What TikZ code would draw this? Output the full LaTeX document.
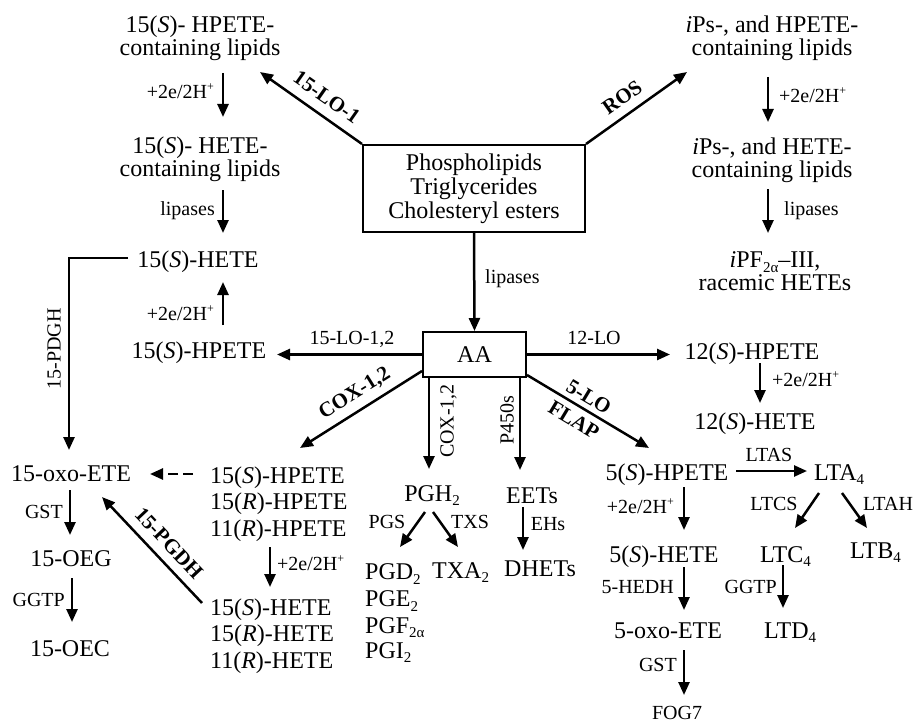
\documentclass[tikz,border=0pt]{standalone}
\usepackage{fontspec}
\setmainfont{Liberation Serif}
\usetikzlibrary{arrows.meta,calc}
\newcommand{\mysub}[1]{\raisebox{-0.2em}{\fontsize{15}{15}\selectfont #1}}
\newcommand{\mysup}[1]{\raisebox{0.4em}{\fontsize{12}{12}\selectfont #1}}
\tikzset{
 main/.style={font=\fontsize{24}{23}\selectfont, inner sep=0pt, text height=16pt, text depth=0pt},
 multi/.style={font=\fontsize{24}{23}\selectfont, inner sep=0pt, align=center},
 trip/.style={font=\fontsize{24}{26.5}\selectfont, inner sep=0pt, align=left, anchor=west},
 lab/.style={font=\fontsize{20}{20}\selectfont, inner sep=0pt, text height=13pt, text depth=0pt},
 dlab/.style={font=\fontsize{21}{21}\selectfont\bfseries, inner sep=0pt, text height=14pt, text depth=0pt},
 arr/.style={line width=2.5pt, -{Triangle[length=13pt,width=11pt]}},
 dasharr/.style={arr, dash pattern=on 10pt off 5pt},
 boxn/.style={draw, line width=2pt, inner sep=0pt, align=center, font=\fontsize{24}{24}\selectfont}
}
\begin{document}
\begin{tikzpicture}[x=1pt,y=-1pt]
\useasboundingbox (0,0) rectangle (917,722);
% ---------- main nodes ----------
\node[multi] (A1) at (200,38) {15(\textit{S})- HPETE-\\containing lipids};
\node[multi] (A2) at (200,159) {15(\textit{S})- HETE-\\containing lipids};
\node[main] (A3) at (198,259) {15(\textit{S})-HETE};
\node[main] (A4) at (199,350) {15(\textit{S})-HPETE};
\node[main] (A5) at (71,473) {15-oxo-ETE};
\node[main] (A6) at (71,558) {15-OEG};
\node[main] (A7) at (70,648) {15-OEC};
\node[trip] (T1) at (210,504) {15(\textit{S})-HPETE\\15(\textit{R})-HPETE\\11(\textit{R})-HPETE};
\node[trip] (T2) at (210,636) {15(\textit{S})-HETE\\15(\textit{R})-HETE\\11(\textit{R})-HETE};
\node[boxn, minimum width=222pt, minimum height=87pt] (B) at (474,188.5) {Phospholipids\\Triglycerides\\Cholesteryl esters};
\node[boxn, minimum width=103pt, minimum height=45pt] (AA) at (474.5,354.5) {AA};
\node[multi] (R1) at (772,38) {\textit{i}Ps-, and HPETE-\\containing lipids};
\node[multi] (R2) at (772,160) {\textit{i}Ps-, and HETE-\\containing lipids};
\node[multi] (R3) at (775,271) {\textit{i}PF\mysub{2α}–III,\\racemic HETEs};
\node[main] (H12P) at (752,351) {12(\textit{S})-HPETE};
\node[main] (H12) at (755,421) {12(\textit{S})-HETE};
\node[main] (PGH) at (432,493) {PGH\mysub{2}};
\node[main, anchor=west] (PGD) at (365,571.5) {PGD\mysub{2}};
\node[main, anchor=west] (PGE) at (365,598.5) {PGE\mysub{2}};
\node[main, anchor=west] (PGF) at (365,625) {PGF\mysub{2α}};
\node[main, anchor=west] (PGI) at (365,650) {PGI\mysub{2}};
\node[main, anchor=west] (TXA) at (432,570) {TXA\mysub{2}};
\node[main] (EET) at (532,495) {EETs};
\node[main] (DHET) at (540,568.5) {DHETs};
\node[main] (P5) at (667,472) {5(\textit{S})-HPETE};
\node[main, anchor=west] (LTA) at (814,472) {LTA\mysub{4}};
\node[main] (H5) at (664,554) {5(\textit{S})-HETE};
\node[main] (OXO5) at (668,630) {5-oxo-ETE};
\node[lab] (FOG) at (677,713) {FOG7};
\node[main, anchor=west] (LTC) at (760,554) {LTC\mysub{4}};
\node[main, anchor=west] (LTB) at (850,550) {LTB\mysub{4}};
\node[main, anchor=west] (LTD) at (764,630) {LTD\mysub{4}};
% ---------- labels ----------
\node[lab, anchor=east] (l1) at (214,92) {+2e/2H\mysup{+}};
\node[lab, anchor=east] (l2) at (215,209) {lipases};
\node[lab, anchor=east] (l3) at (214,314) {+2e/2H\mysup{+}};
\node[lab, rotate=90] (l4) at (54,349) {15-PDGH};
\node[lab] (l5) at (352,338) {15-LO-1,2};
\node[lab, anchor=west] (l6) at (485,277) {lipases};
\node[lab] (l7) at (594,338) {12-LO};
\node[lab, anchor=west] (l8) at (772,380) {+2e/2H\mysup{+}};
\node[lab, rotate=90] (l9) at (447,421) {COX-1,2};
\node[lab, rotate=90] (l10) at (507,420) {P450s};
\node[lab] (l11) at (387,522) {PGS};
\node[lab] (l12) at (470,522) {TXS};
\node[lab] (l13) at (548,524) {EHs};
\node[lab, anchor=east] (l14) at (674,507) {+2e/2H\mysup{+}};
\node[lab, anchor=east] (l15) at (674,587) {5-HEDH};
\node[lab, anchor=east] (l16) at (677,665) {GST};
\node[lab] (l17) at (769,455) {LTAS};
\node[lab] (l18) at (774,504) {LTCS};
\node[lab] (l19) at (888,504) {LTAH};
\node[lab, anchor=east] (l20) at (777,587) {GGTP};
\node[lab, anchor=east] (l21) at (63,512) {GST};
\node[lab, anchor=east] (l22) at (65,600) {GGTP};
\node[lab, anchor=west] (l23) at (277,564) {+2e/2H\mysup{+}};
\node[lab, anchor=west] (l24) at (779,96) {+2e/2H\mysup{+}};
\node[lab, anchor=west] (l25) at (784,209) {lipases};
\node[dlab, rotate=-35] (d1) at (327,97) {15-LO-1};
\node[dlab, rotate=35] (d2) at (622,97) {ROS};
\node[dlab, rotate=32] (d3) at (354,392) {COX-1,2};
\node[dlab, rotate=-31] (d4) at (589,397) {5-LO};
\node[dlab, rotate=-31] (d5) at (574,420) {FLAP};
\node[dlab, rotate=-46.7] (d6) at (169,543) {15-PGDH};
% ---------- connectors ----------
\draw[arr] ($(A1)+(23,35)$) -- ($(A2)+(23,-42)$);
\draw[arr] ($(A2)+(23,31)$) -- ($(A3)+(25,-26)$);
\draw[arr] ($(A4)+(24,-25)$) -- ($(A3)+(25,23)$);
\draw[arr] ($(A3)+(-70,-1)$) -| ($(A5)+(-2,-23)$);
\draw[arr] (B.north east) -- ($(R1)+(-85,34)$);
\draw[arr] (B.north west) -- ($(A1)+(60,34)$);
\draw[arr] ($(R1)+(-4,39)$) -- ($(R2)+(-4,-38)$);
\draw[arr] ($(R2)+(-4,29)$) -- ($(R3)+(-7,-38)$);
\draw[arr] (B.south) -- (AA.north);
\draw[arr] (AA.west) -- ($(A4)+(78,4.5)$);
\draw[arr] (AA.east) -- ($(H12P)+(-82,3.5)$);
\draw[arr] ($(H12P)+(8,12)$) -- ($(H12)+(5,-18)$);
\draw[arr] ($(AA.south west)+(0,-7)$) -- ($(T1.west)+(90,-56)$);
\draw[arr] ($(AA.south)+(-45.5,0)$) -- ($(PGH)+(-3,-24)$);
\draw[arr] ($(AA.south)+(45.5,0)$) -- ($(EET)+(-12,-25)$);
\draw[arr] ($(AA.south east)+(0,-3)$) -- ($(P5)+(-18,-24)$);
\draw[arr] ($(PGH)+(-7,19)$) -- ($(PGD.west)+(35,-24.5)$);
\draw[arr] ($(PGH)+(1,19)$) -- ($(TXA.west)+(26,-23)$);
\draw[arr] ($(EET)+(-9,12)$) -- ($(DHET)+(-17,-18.5)$);
\draw[arr] ($(P5)+(69,-1)$) -- ($(LTA.west)+(-7,-1)$);
\draw[arr] ($(P5)+(17,15)$) -- ($(H5)+(20,-24)$);
\draw[arr] ($(H5)+(20,13)$) -- ($(OXO5)+(16,-20)$);
\draw[arr] ($(OXO5)+(16,20)$) -- ($(FOG)+(7,-18)$);
\draw[arr] ($(LTA.west)+(5,21)$) -- ($(LTC.west)+(35,-26)$);
\draw[arr] ($(LTA.west)+(28,21)$) -- ($(LTB.west)+(17,-22)$);
\draw[arr] ($(LTC.west)+(23,11)$) -- ($(LTD.west)+(19,-22)$);
\draw[dasharr] ($(T1.west)+(-17,-30)$) -- ($(A5)+(79,1)$);
\draw[arr] ($(T1.west)+(60,43)$) -- ($(T2.west)+(60,-49)$);
\draw[arr] ($(T2.west)+(-8,-33)$) -- ($(A5)+(31,24)$);
\draw[arr] ($(A5)+(-1,17)$) -- ($(A6)+(-1,-23)$);
\draw[arr] ($(A6)+(1,20)$) -- ($(A7)+(2,-26)$);
\end{tikzpicture}
\end{document}
